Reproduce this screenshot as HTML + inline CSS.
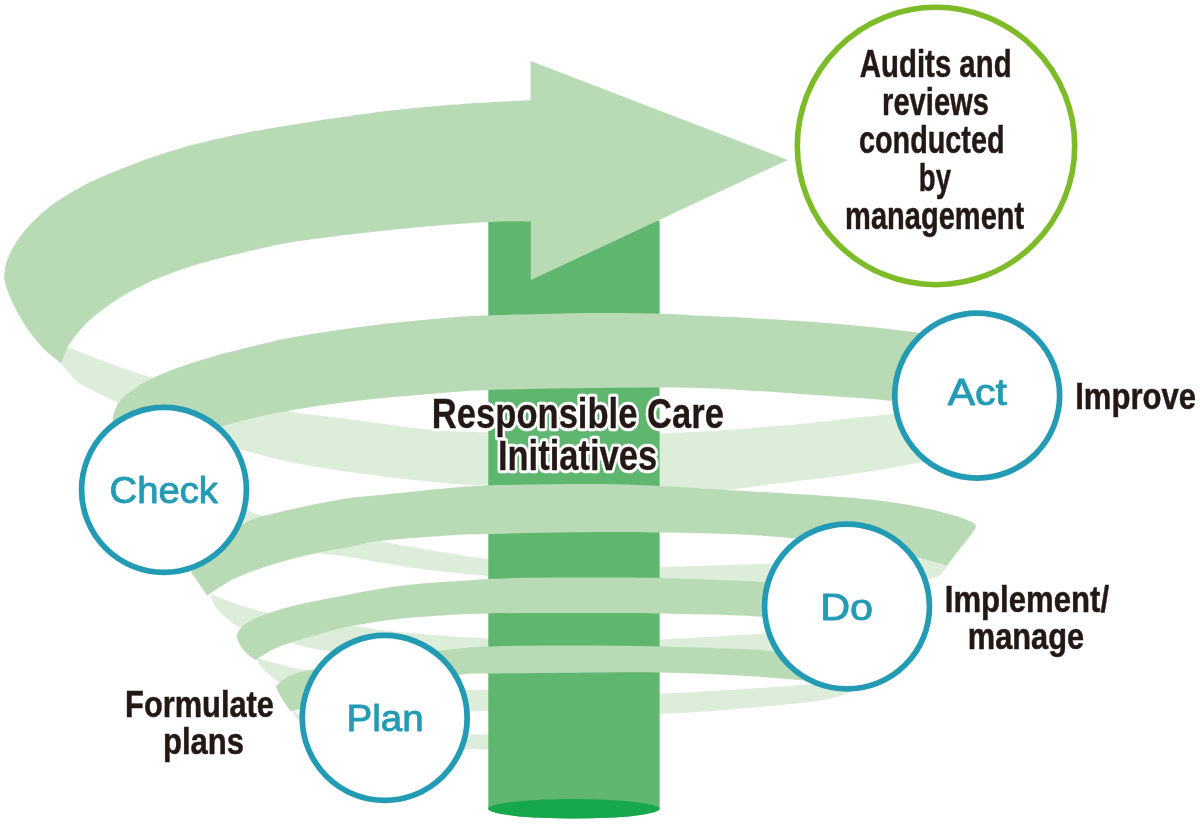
<!DOCTYPE html>
<html><head><meta charset="utf-8"><title>Responsible Care PDCA</title>
<style>
html,body{margin:0;padding:0;background:#fff;}
body{width:1200px;height:825px;overflow:hidden;}
svg{display:block;font-family:"Liberation Sans",sans-serif;will-change:transform;}
</style></head><body>
<svg width="1200" height="825" viewBox="0 0 1200 825">
<rect width="1200" height="825" fill="#fff"/>
<path d="M950.0 410.0 C940.4 410.7 917.5 411.7 892.5 414.0 C867.5 416.3 827.9 421.3 800.0 424.0 C772.1 426.7 748.3 428.4 725.0 430.0 C701.7 431.6 685.2 432.5 660.0 433.5 C634.8 434.5 602.7 436.1 574.0 436.0 C545.3 435.9 512.0 433.7 488.0 432.6 C464.0 431.5 452.2 431.7 430.0 429.6 C407.8 427.5 378.8 423.1 355.0 420.0 C331.2 416.9 310.0 415.0 287.5 411.0 C265.0 407.0 242.9 401.7 220.0 396.0 C197.1 390.3 169.7 382.9 150.0 377.0 C130.3 371.1 115.5 365.4 101.8 360.4 C88.1 355.4 74.6 349.8 67.6 347.0 C60.6 344.2 61.3 344.1 60.0 343.5 L58.0 356.0 C58.5 357.2 58.4 359.4 61.3 363.4 C64.2 367.4 71.6 376.1 75.6 380.0 C79.5 383.9 78.1 382.8 85.0 386.5 C91.9 390.2 104.5 396.4 117.0 402.0 C129.5 407.6 146.2 414.5 160.0 420.0 C173.8 425.5 186.2 430.0 200.0 435.0 C213.8 440.0 225.0 445.0 242.5 450.0 C260.0 455.0 282.1 460.7 305.0 465.0 C327.9 469.3 355.0 472.8 380.0 476.0 C405.0 479.2 437.0 482.3 455.0 484.0 C473.0 485.7 468.2 484.5 488.0 486.0 C507.8 487.5 545.3 491.5 574.0 493.0 C602.7 494.5 639.0 495.1 660.0 495.0 C681.0 494.9 687.2 493.6 700.0 492.5 C712.8 491.4 724.2 490.2 737.0 488.7 C749.8 487.2 764.2 485.2 777.0 483.6 C789.8 482.0 801.4 480.5 813.6 479.0 C825.8 477.5 832.3 477.2 850.0 474.5 C867.7 471.8 903.3 465.8 920.0 462.5 C936.7 459.2 945.0 456.2 950.0 455.0 Z" fill="#dcedda"/>
<path d="M976.0 527.0 C973.3 530.5 967.7 542.8 960.0 548.0 C952.3 553.2 946.7 555.5 930.0 558.0 C913.3 560.5 888.3 562.0 860.0 563.0 C831.7 564.0 793.4 563.3 760.0 564.0 C726.6 564.7 690.5 566.7 659.5 567.0 C628.5 567.3 602.6 567.3 574.0 566.0 C545.4 564.7 512.0 561.7 488.0 559.0 C464.0 556.3 448.0 553.0 430.0 550.0 C412.0 547.0 398.3 544.8 380.0 541.0 C361.7 537.2 339.6 531.2 320.0 527.0 C300.4 522.8 275.0 518.3 262.7 515.5 C250.4 512.7 256.9 514.2 246.4 510.0 C236.0 505.8 216.1 500.0 200.0 490.0 C183.9 480.0 158.3 456.7 150.0 450.0 L150.0 480.0 C166.1 487.0 223.1 511.7 246.4 522.0 C269.7 532.3 278.1 536.9 290.0 542.0 C301.9 547.1 307.5 550.0 317.5 552.5 C327.5 555.0 339.6 555.3 350.0 557.0 C360.4 558.7 366.7 560.3 380.0 562.5 C393.3 564.7 412.0 567.8 430.0 570.0 C448.0 572.2 464.0 574.0 488.0 576.0 C512.0 578.0 545.4 581.5 574.0 582.0 C602.6 582.5 628.5 578.7 659.5 579.0 C690.5 579.3 726.6 583.0 760.0 584.0 C793.4 585.0 831.8 585.8 860.0 585.0 C888.2 584.2 915.1 581.3 929.0 579.0 C942.9 576.7 940.6 573.2 943.6 571.0 C946.6 568.8 946.4 566.4 947.0 565.5 Z" fill="#dcedda"/>
<path d="M210.0 594.0 C215.2 595.9 231.3 602.4 241.0 605.5 C250.7 608.6 256.5 610.3 268.0 612.7 C279.5 615.1 295.6 617.8 310.0 620.0 C324.4 622.2 342.2 624.3 354.5 626.0 C366.8 627.7 373.9 629.2 383.6 630.4 C393.3 631.6 403.0 632.4 412.7 633.3 C422.4 634.2 432.1 635.0 441.8 635.7 C451.5 636.4 463.1 637.2 470.9 637.6 C478.7 638.0 471.2 637.8 488.4 638.4 C505.6 639.0 545.5 640.8 574.0 641.0 C602.5 641.2 631.8 640.5 659.5 639.5 C687.2 638.5 721.6 636.1 740.0 635.0 C758.4 633.9 751.7 634.7 770.0 633.0 C788.3 631.3 836.7 626.3 850.0 625.0 L850.0 655.0 C836.7 654.5 788.3 652.8 770.0 652.0 C751.7 651.2 758.3 650.8 740.0 650.0 C721.7 649.2 687.7 647.3 660.0 647.0 C632.3 646.7 602.7 647.9 574.0 648.0 C545.3 648.1 510.3 647.0 488.0 647.5 C465.7 648.0 454.7 650.1 440.0 651.0 C425.3 651.9 418.3 653.0 400.0 653.0 C381.7 653.0 348.3 652.7 330.0 651.0 C311.7 649.3 301.7 645.5 290.0 642.7 C278.3 639.9 268.5 636.6 260.0 634.0 C251.5 631.4 244.6 629.7 239.0 627.0 C233.4 624.3 230.3 621.3 226.4 618.0 C222.5 614.7 218.1 610.6 215.5 607.0 C212.9 603.4 211.8 598.2 211.0 596.4 Z" fill="#dcedda"/>
<path d="M257.0 658.0 C261.0 659.1 272.8 662.5 281.0 664.5 C289.2 666.5 286.2 667.1 306.0 670.0 C325.8 672.9 372.7 678.7 400.0 682.0 C427.3 685.3 455.3 688.7 470.0 690.0 C484.7 691.3 470.7 689.2 488.0 690.0 C505.3 690.8 545.4 694.4 574.0 695.0 C602.6 695.6 633.5 694.4 659.5 693.6 C685.5 692.8 705.2 691.5 730.0 690.0 C754.8 688.5 788.0 686.3 808.0 684.6 C828.0 682.9 843.0 680.8 850.0 680.0 L870.0 685.0 C867.7 685.8 864.3 687.4 856.0 690.0 C847.7 692.6 841.0 697.2 820.0 700.5 C799.0 703.8 756.8 707.2 730.0 709.5 C703.2 711.8 685.5 712.9 659.5 714.0 C633.5 715.1 602.6 716.5 574.0 716.0 C545.4 715.5 505.3 711.8 488.0 711.0 C470.7 710.2 484.7 712.0 470.0 711.0 C455.3 710.0 423.3 707.7 400.0 705.0 C376.7 702.3 346.7 697.8 330.0 695.0 C313.3 692.2 307.3 690.2 300.0 688.5 C292.7 686.8 289.8 685.8 286.0 684.5 C282.2 683.2 280.0 682.5 277.3 681.0 C274.6 679.5 272.4 677.6 270.0 675.5 C267.6 673.4 264.8 670.6 262.7 668.2 C260.6 665.8 258.2 662.2 257.3 661.0 Z" fill="#dcedda"/>
<path d="M292.0 710.0 C293.3 710.7 292.0 711.7 300.0 714.0 C308.0 716.3 323.3 721.2 340.0 724.0 C356.7 726.8 379.2 729.3 400.0 731.0 C420.8 732.7 449.2 733.4 465.0 734.0 C480.8 734.6 490.0 734.4 495.0 734.5 L495.0 749.5 C490.0 749.4 480.8 749.6 465.0 749.0 C449.2 748.4 420.8 747.8 400.0 746.0 C379.2 744.2 355.8 741.5 340.0 738.0 C324.2 734.5 312.8 729.2 305.0 725.0 C297.2 720.8 295.0 715.0 293.0 713.0 Z" fill="#dcedda"/>
<rect x="488.3" y="221" width="171.3" height="588" fill="#5fb66e"/>
<path d="M488.3 808.8 A85.65 9.7 0 0 0 659.6 808.8 Z" fill="#5fb66e"/>
<ellipse cx="573.95" cy="808.8" rx="85.65" ry="9.7" fill="#17a84e"/>
<path d="M275.8 686.4 C277.2 685.2 281.2 681.1 284.5 679.0 C287.8 676.9 290.9 675.2 295.5 673.6 C300.1 672.0 302.7 671.9 311.8 669.6 C320.9 667.3 335.3 662.6 350.0 660.0 C364.7 657.4 385.0 655.6 400.0 654.0 C415.0 652.4 425.3 651.8 440.0 650.5 C454.7 649.2 465.7 647.3 488.0 646.5 C510.3 645.7 545.3 645.5 574.0 645.5 C602.7 645.5 632.3 645.9 660.0 646.5 C687.7 647.1 721.7 648.2 740.0 649.0 C758.3 649.8 755.0 649.2 770.0 651.0 C785.0 652.8 820.0 658.5 830.0 660.0 L840.0 690.0 C834.7 688.5 826.3 683.5 808.0 681.0 C789.7 678.5 754.8 676.4 730.0 675.0 C705.2 673.6 685.5 672.8 659.5 672.4 C633.5 672.0 602.5 672.5 574.0 672.7 C545.5 672.9 507.3 673.2 488.4 673.5 C469.5 673.8 475.4 672.8 460.7 674.7 C446.0 676.6 420.1 680.8 400.0 685.0 C379.9 689.2 358.0 695.7 340.0 700.0 C322.0 704.3 300.0 709.2 292.0 711.0 L292.0 711.0 C291.5 710.7 290.8 711.3 289.0 709.0 C287.2 706.7 283.2 700.8 281.0 697.0 C278.8 693.2 276.7 688.2 275.8 686.4 Z" fill="#b8dbb5"/>
<path d="M236.4 636.4 C237.0 635.2 237.7 631.6 240.0 629.0 C242.3 626.4 245.0 623.7 250.0 621.0 C255.0 618.3 261.8 615.5 270.0 612.7 C278.2 610.0 287.3 607.2 299.0 604.5 C310.7 601.8 325.9 598.9 340.0 596.2 C354.1 593.5 369.1 590.4 383.6 588.2 C398.2 586.0 412.8 584.4 427.3 583.1 C441.9 581.8 460.7 580.9 470.9 580.2 C481.1 579.5 478.5 579.4 488.4 579.0 C498.2 578.6 515.7 578.0 530.0 577.8 C544.3 577.5 559.0 577.5 574.0 577.5 C589.0 577.5 605.7 577.5 620.0 577.6 C634.3 577.7 645.3 577.7 660.0 578.0 C674.7 578.3 691.0 578.9 708.2 579.6 C725.5 580.3 739.9 580.5 763.5 582.2 C787.1 583.9 827.2 587.4 850.0 590.0 C872.8 592.6 891.7 596.7 900.0 598.0 L900.0 633.0 C891.7 631.7 873.0 627.7 850.0 625.0 C827.0 622.3 785.6 618.5 762.0 616.8 C738.4 615.0 725.2 615.0 708.2 614.5 C691.2 614.0 674.7 613.8 660.0 613.5 C645.3 613.2 634.3 613.1 620.0 613.0 C605.7 612.9 589.0 613.0 574.0 613.0 C559.0 613.0 544.3 612.9 530.0 613.0 C515.7 613.1 500.7 613.1 488.4 613.4 C476.1 613.7 466.6 614.1 456.4 614.6 C446.2 615.1 437.0 615.8 427.3 616.5 C417.6 617.2 407.9 617.9 398.2 619.0 C388.5 620.1 378.7 621.4 369.0 623.0 C359.3 624.6 348.7 626.5 340.0 628.5 C331.3 630.5 325.3 632.6 317.0 635.0 C308.7 637.4 297.5 640.2 290.0 642.7 C282.5 645.2 277.6 647.1 271.8 650.0 C266.1 652.9 258.2 658.3 255.5 660.0 L255.5 660.0 C254.2 659.1 250.4 656.8 248.0 654.5 C245.6 652.2 242.9 649.4 241.0 646.4 C239.1 643.4 237.2 638.1 236.4 636.4 Z" fill="#b8dbb5"/>
<path d="M191.0 572.0 C195.0 567.5 205.8 553.3 215.0 545.0 C224.2 536.7 236.1 527.4 246.4 522.0 C256.7 516.6 265.8 515.6 277.0 512.7 C288.2 509.8 301.4 506.9 313.6 504.5 C325.8 502.1 338.9 499.6 350.0 498.0 C361.1 496.4 362.5 496.8 380.0 495.0 C397.5 493.2 437.0 489.1 455.0 487.5 C473.0 485.9 475.5 486.0 488.0 485.5 C500.5 485.0 511.3 484.8 530.0 484.5 C548.7 484.2 578.4 483.8 600.0 484.0 C621.6 484.2 632.8 484.7 659.5 486.0 C686.2 487.3 733.2 490.4 760.0 492.0 C786.8 493.6 800.9 494.2 820.0 495.5 C839.1 496.8 857.8 498.1 874.5 500.0 C891.2 501.9 906.4 504.3 920.0 507.0 C933.6 509.7 947.7 513.6 956.0 516.0 C964.3 518.4 966.8 519.9 970.0 521.3 C973.2 522.7 974.3 523.4 975.2 524.5 C976.1 525.6 975.5 527.6 975.6 528.2 L947.0 565.5 C942.3 564.2 933.5 561.1 919.0 558.0 C904.5 554.9 880.5 550.2 860.0 547.0 C839.5 543.8 817.7 540.7 796.0 538.5 C774.3 536.3 752.8 535.0 730.0 534.0 C707.2 533.0 681.2 532.8 659.5 532.5 C637.8 532.2 621.6 531.9 600.0 532.0 C578.4 532.1 548.7 532.7 530.0 533.0 C511.3 533.3 500.5 533.7 488.0 534.0 C475.5 534.3 473.0 533.8 455.0 535.0 C437.0 536.2 397.5 539.0 380.0 541.0 C362.5 543.0 358.0 545.5 350.0 547.0 C342.0 548.5 341.1 548.2 332.0 550.0 C322.9 551.8 307.7 554.8 295.5 558.0 C283.3 561.2 269.6 565.3 259.0 569.0 C248.4 572.7 240.4 575.6 231.8 580.0 C223.2 584.4 211.4 592.9 207.3 595.5 Z" fill="#b8dbb5"/>
<path d="M113.0 432.0 C113.0 429.8 112.1 423.3 112.7 419.0 C113.3 414.7 114.6 410.0 116.4 406.4 C118.2 402.8 120.3 400.5 123.6 397.3 C126.9 394.1 131.8 390.4 136.4 387.3 C141.0 384.2 145.5 381.7 150.9 379.0 C156.3 376.3 162.9 373.4 169.0 371.0 C175.1 368.6 178.2 367.4 187.3 364.5 C196.4 361.6 211.5 356.9 223.6 353.6 C235.7 350.3 247.3 347.4 260.0 344.5 C272.7 341.6 280.8 339.2 300.0 336.0 C319.2 332.8 350.0 328.1 375.0 325.0 C400.0 321.9 431.2 319.1 450.0 317.5 C468.8 315.9 473.0 316.1 488.0 315.5 C503.0 314.9 521.3 314.4 540.0 314.0 C558.7 313.6 580.1 313.0 600.0 313.0 C619.9 313.0 642.8 313.3 659.5 313.8 C676.2 314.2 684.9 315.0 700.0 315.8 C715.1 316.5 733.3 317.1 750.0 318.0 C766.7 318.9 781.7 319.7 800.0 321.0 C818.3 322.3 840.4 324.1 860.0 326.0 C879.6 327.9 902.5 330.5 917.5 332.5 C932.5 334.5 944.6 337.1 950.0 338.0 L950.0 412.0 C940.4 410.2 917.5 404.0 892.5 401.0 C867.5 398.0 832.1 396.2 800.0 394.0 C767.9 391.8 733.3 389.0 700.0 388.0 C666.7 387.0 635.3 387.7 600.0 388.0 C564.7 388.3 516.3 389.0 488.0 390.0 C459.7 391.0 452.2 392.2 430.0 394.0 C407.8 395.8 378.8 398.2 355.0 401.0 C331.2 403.8 308.3 407.2 287.5 411.0 C266.7 414.8 246.2 419.5 230.0 424.0 C213.8 428.5 203.3 432.8 190.0 438.0 C176.7 443.2 161.7 453.0 150.0 455.0 C138.3 457.0 125.0 450.8 120.0 450.0 Z" fill="#b8dbb5"/>
<path d="M61.1 363.3 C58.2 360.9 48.9 354.0 43.6 348.7 C38.3 343.4 33.5 337.4 29.1 331.3 C24.8 325.2 20.9 318.7 17.5 312.4 C14.1 306.1 10.9 299.1 8.7 293.5 C6.5 287.9 4.9 281.4 4.1 279.0 L4.1 279.0 C4.3 277.2 4.6 271.2 5.1 268.0 C5.6 264.8 5.7 263.8 7.3 260.0 C8.9 256.2 11.2 250.4 14.5 245.0 C17.8 239.6 22.1 233.3 27.3 227.5 C32.5 221.7 39.5 215.0 45.5 210.0 C51.5 205.0 56.0 202.0 63.6 197.3 C71.2 192.6 80.3 187.0 90.9 181.8 C101.5 176.7 115.2 171.1 127.3 166.4 C139.4 161.7 151.5 157.5 163.6 153.6 C175.7 149.7 185.6 146.7 200.0 143.1 C214.4 139.5 233.3 135.3 250.0 132.0 C266.7 128.7 283.3 126.2 300.0 123.5 C316.7 120.8 333.3 118.3 350.0 116.0 C366.7 113.7 380.8 111.6 400.0 109.6 C419.2 107.6 443.2 105.4 465.0 103.8 C486.8 102.2 519.7 100.8 530.6 100.2 L530.6 60.9 L787.8 160.0 L530.8 280.0 L530.8 221.4 C523.6 221.5 509.3 220.7 487.5 222.0 C465.7 223.3 431.2 225.8 400.0 229.0 C368.8 232.2 325.0 237.3 300.0 241.0 C275.0 244.7 266.7 247.2 250.0 251.0 C233.3 254.8 215.0 259.2 200.0 263.6 C185.0 268.0 169.1 274.1 160.0 277.5 C150.9 280.9 151.6 281.0 145.5 284.0 C139.4 287.0 130.9 291.2 123.6 295.6 C116.3 300.0 107.8 305.7 101.8 310.2 C95.8 314.7 91.7 318.3 87.3 322.5 C82.9 326.7 78.9 331.5 75.6 335.6 C72.3 339.7 68.9 345.1 67.6 347.0 Z" fill="#b8dbb5"/>
<circle cx="936.00" cy="146.00" r="138.70" fill="#fff" stroke="#7dbb28" stroke-width="5.60"/>
<circle cx="977.20" cy="395.60" r="82.45" fill="#fff" stroke="#239bb4" stroke-width="5.70"/>
<circle cx="164.00" cy="489.90" r="82.45" fill="#fff" stroke="#239bb4" stroke-width="5.70"/>
<circle cx="847.00" cy="606.50" r="82.45" fill="#fff" stroke="#239bb4" stroke-width="5.70"/>
<circle cx="384.70" cy="717.90" r="82.45" fill="#fff" stroke="#239bb4" stroke-width="5.70"/>
<text x="431.87" y="427.60" font-size="42.30" font-weight="bold" fill="#fff" textLength="292.04" lengthAdjust="spacingAndGlyphs" stroke="#fff" stroke-width="6.6" stroke-linejoin="round">Responsible Care</text>
<text x="497.96" y="470.20" font-size="42.30" font-weight="bold" fill="#fff" textLength="159.11" lengthAdjust="spacingAndGlyphs" stroke="#fff" stroke-width="6.6" stroke-linejoin="round">Initiatives</text>
<text x="947.70" y="405.40" font-size="36.60" font-weight="normal" fill="#239bb4" textLength="59.27" lengthAdjust="spacingAndGlyphs" stroke="#239bb4" stroke-width="0.9" stroke-linejoin="round">Act</text>
<text x="109.63" y="502.60" font-size="36.60" font-weight="normal" fill="#239bb4" textLength="108.37" lengthAdjust="spacingAndGlyphs" stroke="#239bb4" stroke-width="0.9" stroke-linejoin="round">Check</text>
<text x="820.18" y="619.70" font-size="36.60" font-weight="normal" fill="#239bb4" textLength="52.85" lengthAdjust="spacingAndGlyphs" stroke="#239bb4" stroke-width="0.9" stroke-linejoin="round">Do</text>
<text x="346.44" y="731.00" font-size="36.60" font-weight="normal" fill="#239bb4" textLength="77.23" lengthAdjust="spacingAndGlyphs" stroke="#239bb4" stroke-width="0.9" stroke-linejoin="round">Plan</text>
<text x="859.85" y="76.60" font-size="39.00" font-weight="bold" fill="#231815" textLength="151.75" lengthAdjust="spacingAndGlyphs" stroke="#231815" stroke-width="0.5" stroke-linejoin="round">Audits and</text>
<text x="882.10" y="114.60" font-size="39.00" font-weight="bold" fill="#231815" textLength="106.86" lengthAdjust="spacingAndGlyphs" stroke="#231815" stroke-width="0.5" stroke-linejoin="round">reviews</text>
<text x="858.98" y="152.60" font-size="39.00" font-weight="bold" fill="#231815" textLength="145.55" lengthAdjust="spacingAndGlyphs" stroke="#231815" stroke-width="0.5" stroke-linejoin="round">conducted</text>
<text x="918.87" y="190.60" font-size="39.00" font-weight="bold" fill="#231815" textLength="32.13" lengthAdjust="spacingAndGlyphs" stroke="#231815" stroke-width="0.5" stroke-linejoin="round">by</text>
<text x="845.11" y="228.70" font-size="39.00" font-weight="bold" fill="#231815" textLength="179.10" lengthAdjust="spacingAndGlyphs" stroke="#231815" stroke-width="0.5" stroke-linejoin="round">management</text>
<text x="1075.19" y="409.40" font-size="36.00" font-weight="bold" fill="#231815" textLength="120.95" lengthAdjust="spacingAndGlyphs" stroke="#231815" stroke-width="0.5" stroke-linejoin="round">Improve</text>
<text x="944.76" y="611.90" font-size="36.00" font-weight="bold" fill="#231815" textLength="164.28" lengthAdjust="spacingAndGlyphs" stroke="#231815" stroke-width="0.5" stroke-linejoin="round">Implement/</text>
<text x="967.81" y="649.40" font-size="36.00" font-weight="bold" fill="#231815" textLength="116.22" lengthAdjust="spacingAndGlyphs" stroke="#231815" stroke-width="0.5" stroke-linejoin="round">manage</text>
<text x="125.07" y="716.70" font-size="36.00" font-weight="bold" fill="#231815" textLength="148.95" lengthAdjust="spacingAndGlyphs" stroke="#231815" stroke-width="0.5" stroke-linejoin="round">Formulate</text>
<text x="162.92" y="754.00" font-size="36.00" font-weight="bold" fill="#231815" textLength="81.12" lengthAdjust="spacingAndGlyphs" stroke="#231815" stroke-width="0.5" stroke-linejoin="round">plans</text>
<text x="431.87" y="427.60" font-size="42.30" font-weight="bold" fill="#231815" textLength="292.04" lengthAdjust="spacingAndGlyphs" stroke="#231815" stroke-width="0.3" stroke-linejoin="round">Responsible Care</text>
<text x="497.96" y="470.20" font-size="42.30" font-weight="bold" fill="#231815" textLength="159.11" lengthAdjust="spacingAndGlyphs" stroke="#231815" stroke-width="0.3" stroke-linejoin="round">Initiatives</text>
</svg>
</body></html>
